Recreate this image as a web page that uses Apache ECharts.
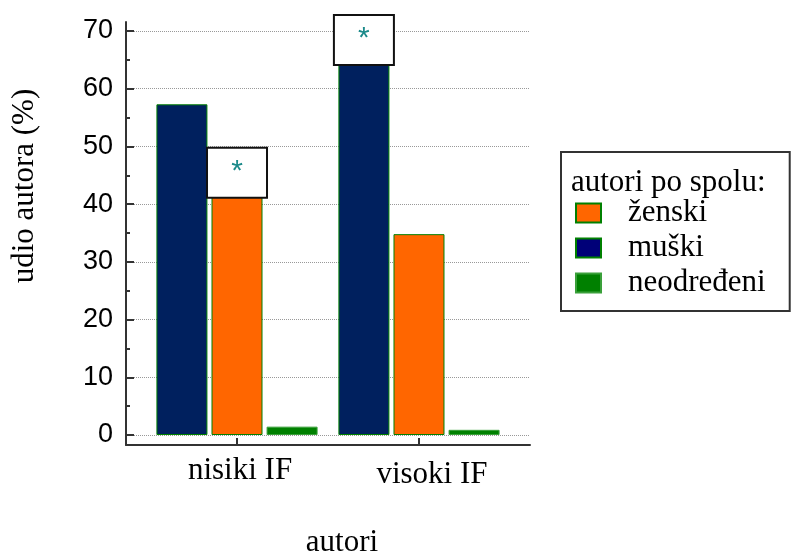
<!DOCTYPE html>
<html><head><meta charset="utf-8">
<script src="https://cdn.jsdelivr.net/npm/echarts@6/dist/echarts.min.js"></script>
<style>html,body{margin:0;padding:0;background:#fff}#c{width:794px;height:559px}</style>
</head><body><div id="c"></div>
<script>
// ---- data ----
const categories = ['nisiki IF', 'visoki IF'];
const categoryPos = [1, 2];
const muski = [57.3, 64.3];
const zenski = [41.3, 34.8];
const neodredeni = [1.45, 0.9];
const yTicks = [0, 10, 20, 30, 40, 50, 60, 70];
const yMinorTicks = [5, 15, 25, 35, 45, 55, 65];
const legendOrder = ['ženski', 'muški', 'neodređeni'];
const starredZenski = [0];
const starredMuski = [1];

const SERIF = 'Liberation Serif';
const SANS = 'Liberation Sans';

const starLabel = {
  show: true,
  position: 'top',
  distance: 0,
  formatter: '{s|*}',
  rich: { s: { color: '#1b8a8a', fontFamily: SANS, fontSize: 30, padding: [8, 0, 0, 0] } },
  backgroundColor: '#fff',
  borderColor: '#111',
  borderWidth: 2,
  width: 58,
  height: 48,
  align: 'center'
};

function buildData(vals, starred) {
  return vals.map((v, i) => {
    const d = { value: [categoryPos[i], v] };
    if (starred.indexOf(i) >= 0) d.label = starLabel;
    return d;
  });
}

const chart = echarts.init(document.getElementById('c'), null, { renderer: 'canvas' });
const option = {
  animation: false,
  backgroundColor: '#fff',
  grid: { left: 126, right: 264, top: 22, bottom: 114, containLabel: false },
  legend: {
    data: [
      { name: legendOrder[0] },
      { name: legendOrder[1], itemStyle: { color: '#000078' } },
      { name: legendOrder[2] }
    ],
    orient: 'vertical',
    left: 561,
    top: 152,
    padding: [45, 24, 12, 14],
    itemWidth: 25,
    itemHeight: 19,
    itemGap: 3,
    borderColor: '#333',
    borderWidth: 2,
    icon: 'rect',
    textStyle: { fontFamily: SERIF, fontSize: 31, color: '#000', lineHeight: 32, padding: [0, 0, 0, 22] }
  },
  graphic: [
    { type: 'text', left: 571, top: 167, style: { text: 'autori po spolu:', fontFamily: SERIF, fontSize: 31, fill: '#000' } },
    { type: 'text', x: 25, y: 186, rotation: Math.PI / 2, style: { text: 'udio autora (%)', fontFamily: SERIF, fontSize: 31, fill: '#000', align: 'center', verticalAlign: 'middle' } },
    { type: 'text', x: 342, y: 543, style: { text: 'autori', fontFamily: SERIF, fontSize: 31, fill: '#000', align: 'center', verticalAlign: 'middle' } }
  ],
  xAxis: {
    type: 'value',
    min: 0.39,
    max: 2.61,
    axisLine: { onZero: false, lineStyle: { color: '#333', width: 2 } },
    axisTick: { inside: true, length: 7, customValues: categoryPos, lineStyle: { color: '#333', width: 2 } },
    axisLabel: {
      customValues: categoryPos,
      formatter: v => {
        const i = categoryPos.indexOf(v);
        return i < 0 ? '' : (i === 0 ? '{a|' : '{b|') + categories[i] + '}';
      },
      rich: {
        a: { fontFamily: SERIF, fontSize: 31, color: '#000', padding: [0, 0, 0, 6] },
        b: { fontFamily: SERIF, fontSize: 31, color: '#000', padding: [4, 0, 0, 26] }
      },
      fontFamily: SERIF, fontSize: 31, color: '#000', margin: 10
    },
    splitLine: { show: false }
  },
  yAxis: [{
    type: 'value',
    position: 'left',
    min: -1.73,
    max: 71.56,
    axisLine: { show: true, onZero: false, lineStyle: { color: '#333', width: 2 } },
    axisTick: { show: true, inside: true, length: 8, customValues: yTicks, lineStyle: { color: '#333', width: 2 } },
    axisLabel: { customValues: yTicks, fontFamily: SANS, fontSize: 27, color: '#000', margin: 13 },
    splitLine: { show: true, lineStyle: { type: 'dotted', color: '#999', width: 1 } }
  }, {
    type: 'value',
    position: 'left',
    min: -1.73,
    max: 71.56,
    axisLine: { show: false, onZero: false },
    axisTick: { show: true, inside: true, length: 4, customValues: yMinorTicks, lineStyle: { color: '#333', width: 2 } },
    axisLabel: { show: false },
    splitLine: { show: false }
  }],
  series: [
    { name: 'muški', type: 'bar', barWidth: 51, barGap: '8%', data: buildData(muski, starredMuski),
      itemStyle: { color: '#00205e', borderColor: '#008000', borderWidth: 1 } },
    { name: 'ženski', type: 'bar', barWidth: 51, barGap: '8%', data: buildData(zenski, starredZenski),
      itemStyle: { color: '#ff6600', borderColor: '#008000', borderWidth: 1 } },
    { name: 'neodređeni', type: 'bar', barWidth: 51, barGap: '8%', data: buildData(neodredeni, []),
      itemStyle: { color: '#008000', borderColor: '#3aa03a', borderWidth: 1 } }
  ]
};
chart.setOption(option);
</script>
</body></html>
